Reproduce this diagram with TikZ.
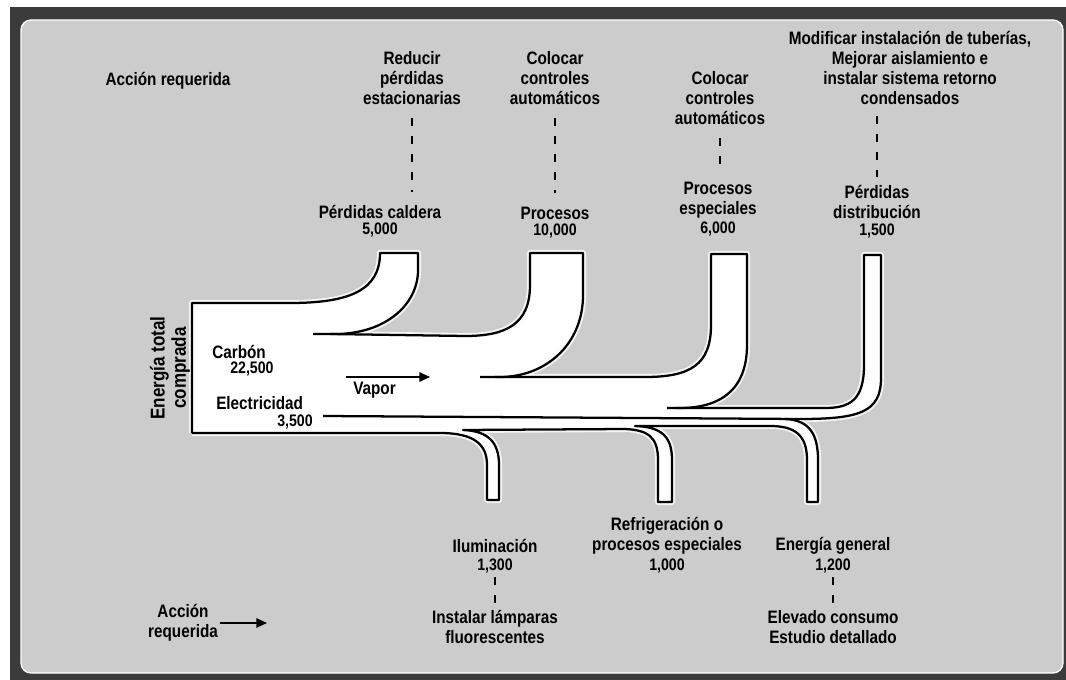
\documentclass[tikz,border=0pt]{standalone}
\usepackage{fontspec}
\setmainfont{Liberation Sans}[FakeStretch=0.85]
\usetikzlibrary{arrows.meta}
\definecolor{bggray}{HTML}{CCCCCC}
\definecolor{framedark}{HTML}{3B3B3B}
\begin{document}
\begin{tikzpicture}[x=0.75pt,y=-0.75pt,
  lbl/.style={font=\bfseries\fontsize{13.5}{15}\selectfont, align=center, inner sep=0pt},
  num/.style={font=\bfseries\fontsize{12.5}{14}\selectfont, inner sep=0pt},
  pipe/.style={draw=black, line width=1.7pt, line join=round},
  glow/.style={draw=white, line width=4.5pt, line join=round, opacity=0.8},
  dashline/.style={draw=black, line width=2.2pt, dash pattern=on 6pt off 7.5pt},
  arr/.style={-{Triangle[length=8pt,width=7pt]}, line width=1.4pt}
]
\useasboundingbox (0,0) rectangle (1066,680);
\fill[white] (0,0) rectangle (1066,680);
\fill[framedark] (10,7) rectangle (1066,680);
\filldraw[fill=bggray, draw=white, line width=1pt, rounded corners=7.5pt] (21,20) rectangle (1063,673);

% white flow shape
\fill[white] (192,433) -- (192,303) -- (290,303) .. controls (350,303) and (380,290) .. (380,253) -- (418,253) -- (418,270) .. controls (418,305) and (385,334) .. (335,334) -- (465,336) .. controls (505,336) and (530,325) .. (530,285) -- (530,253) -- (583,253) -- (583,295) .. controls (583,345) and (545,377) .. (500,377) -- (645,377) .. controls (690,377) and (711,365) .. (711,325) -- (711,254) -- (747,254) -- (747,345) .. controls (747,390) and (720,408) .. (680,408) -- (825,408) .. controls (850,408) and (864,400) .. (864,365) -- (864,255) -- (881,255) -- (881,378) .. controls (881,412) and (860,419) .. (800,419) -- (790,419) .. controls (810,420) and (818,435) .. (818,460) -- (818,502) -- (807,502) -- (807,460) .. controls (807,435) and (795,426) .. (770,426) -- (635,426) .. controls (660,427) and (672,435) .. (672,460) -- (672,502) -- (658,502) -- (658,460) .. controls (658,437) and (648,430) .. (625,429) -- (463,430) .. controls (488,431) and (499,442) .. (499,465) -- (499,500) -- (487,500) -- (487,465) .. controls (487,445) and (475,433) .. (440,433) -- cycle;

\foreach \sty in {glow,pipe}{
\draw[\sty] (192,433) -- (192,303) -- (290,303) .. controls (350,303) and (380,290) .. (380,253) -- (418,253) -- (418,270) .. controls (418,305) and (385,334) .. (335,334) -- (313,334);
\draw[\sty] (330,334) -- (465,336) .. controls (505,336) and (530,325) .. (530,285) -- (530,253) -- (583,253) -- (583,295) .. controls (583,345) and (545,377) .. (500,377) -- (480,377);
\draw[\sty] (495,377) -- (645,377) .. controls (690,377) and (711,365) .. (711,325) -- (711,254) -- (747,254) -- (747,345) .. controls (747,390) and (720,408) .. (680,408) -- (667,408);
\draw[\sty] (675,408) -- (825,408) .. controls (850,408) and (864,400) .. (864,365) -- (864,255) -- (881,255) -- (881,378) .. controls (881,412) and (860,419) .. (800,419) -- (323,416);
\draw[\sty] (785,419) .. controls (810,420) and (818,435) .. (818,460) -- (818,502) -- (807,502) -- (807,460) .. controls (807,435) and (795,426) .. (770,426) -- (635,426) .. controls (660,427) and (672,435) .. (672,460) -- (672,502) -- (658,502) -- (658,460) .. controls (658,437) and (648,430) .. (625,429) -- (463,430) .. controls (488,431) and (499,442) .. (499,465) -- (499,500) -- (487,500) -- (487,465) .. controls (487,445) and (475,433) .. (440,433) -- (192,433);
}

% top labels
\node[lbl] (accTop) at (168,81) {Acción requerida};
\node[lbl] (redu) at (412,78) {Reducir\\pérdidas\\estacionarias};
\node[lbl] (cal) at (380,212) {Pérdidas caldera};
\node[num] (calN) at (380,230) {5,000};
\node[lbl] (col1) at (555,78) {Colocar\\controles\\automáticos};
\node[lbl] (proc) at (555,213) {Procesos};
\node[num] (procN) at (555,231) {10,000};
\node[lbl] (col2) at (720,98) {Colocar\\controles\\automáticos};
\node[lbl] (esp) at (718,200) {Procesos\\especiales};
\node[num] (espN) at (718,229) {6,000};
\node[lbl] (mod) at (910,68) {Modificar instalación de tuberías,\\Mejorar aislamiento e\\instalar sistema retorno\\condensados};
\node[lbl] (dist) at (877,202) {Pérdidas\\distribución};
\node[num] (distN) at (877,231) {1,500};

\draw[dashline, shorten <=10pt, shorten >=10pt] (redu.south) -- (redu.south |- cal.north);
\draw[dashline, shorten <=10pt, shorten >=10pt] (col1.south) -- (col1.south |- proc.north);
\draw[dashline, shorten <=10pt, shorten >=10pt] (col2.south) -- (col2.south |- esp.north);
\draw[dashline, shorten <=8pt, shorten >=6pt] (mod.south -| dist.north) -- (dist.north);

% main pipe labels
\node[lbl, anchor=west] (carb) at (212,352) {Carbón};
\node[num, anchor=west] (carbN) at (230,369) {22,500};
\node[lbl, anchor=west] (elec) at (216,403) {Electricidad};
\node[num, anchor=west] (elecN) at (277,422) {3,500};
\node[lbl, anchor=west] (vap) at (353,390) {Vapor};
\coordinate (vs) at (346,377);
\coordinate (ve) at (430,377);
\draw[arr] (vs) -- (ve);
\node[lbl, rotate=90, font=\bfseries\fontsize{15}{16}\selectfont] (etc) at (170,368) {Energía total\\comprada};

% bottom labels
\node[lbl] (ilu) at (495,546) {Iluminación};
\node[num] (iluN) at (495,566) {1,300};
\node[lbl] (lamp) at (495,627) {Instalar lámparas\\fluorescentes};
\node[lbl] (refr) at (667,536) {Refrigeración o\\procesos especiales};
\node[num] (refrN) at (667,566) {1,000};
\node[lbl] (eg) at (833,546) {Energía general};
\node[num] (egN) at (833,566) {1,200};
\node[lbl] (elev) at (833,627) {Elevado consumo\\Estudio detallado};
\draw[dashline, shorten <=3pt, shorten >=3pt] (iluN.south) -- (iluN.south |- lamp.north);
\draw[dashline, shorten <=3pt, shorten >=3pt] (egN.south) -- (egN.south |- elev.north);

\node[lbl] (accBot) at (183,623) {Acción\\requerida};
\coordinate (accEnd) at (267,623);
\draw[arr] (accBot.east) ++(2,0) -- (accEnd);
\end{tikzpicture}
\end{document}
